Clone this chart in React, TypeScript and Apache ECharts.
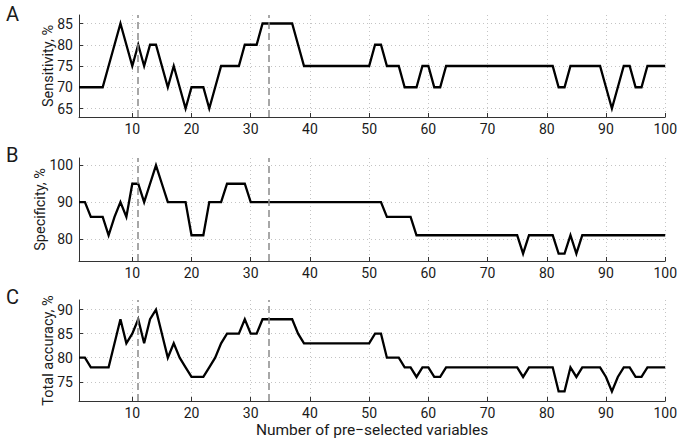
import React, { useEffect, useRef } from "react";
import * as echarts from "echarts";

const sensitivity = [
  70, 70, 70, 70, 70, 75, 80, 85, 80, 75, 80, 75, 80, 80, 75, 70, 75, 70, 65, 70,
  70, 70, 65, 70, 75, 75, 75, 75, 80, 80, 80, 85, 85, 85, 85, 85, 85, 80, 75, 75,
  75, 75, 75, 75, 75, 75, 75, 75, 75, 75, 80, 80, 75, 75, 75, 70, 70, 70, 75, 75,
  70, 70, 75, 75, 75, 75, 75, 75, 75, 75, 75, 75, 75, 75, 75, 75, 75, 75, 75, 75,
  75, 70, 70, 75, 75, 75, 75, 75, 75, 70, 65, 70, 75, 75, 70, 70, 75, 75, 75, 75,
];

const specificity = [
  90, 90, 86, 86, 86, 81, 86, 90, 86, 95, 95, 90, 95, 100, 95, 90, 90, 90, 90, 81,
  81, 81, 90, 90, 90, 95, 95, 95, 95, 90, 90, 90, 90, 90, 90, 90, 90, 90, 90, 90,
  90, 90, 90, 90, 90, 90, 90, 90, 90, 90, 90, 90, 86, 86, 86, 86, 86, 81, 81, 81,
  81, 81, 81, 81, 81, 81, 81, 81, 81, 81, 81, 81, 81, 81, 81, 76, 81, 81, 81, 81,
  81, 76, 76, 81, 76, 81, 81, 81, 81, 81, 81, 81, 81, 81, 81, 81, 81, 81, 81, 81,
];

const totalAccuracy = [
  80, 80, 78, 78, 78, 78, 83, 88, 83, 85, 88, 83, 88, 90, 85, 80, 83, 80, 78, 76,
  76, 76, 78, 80, 83, 85, 85, 85, 88, 85, 85, 88, 88, 88, 88, 88, 88, 85, 83, 83,
  83, 83, 83, 83, 83, 83, 83, 83, 83, 83, 85, 85, 80, 80, 80, 78, 78, 76, 78, 78,
  76, 76, 78, 78, 78, 78, 78, 78, 78, 78, 78, 78, 78, 78, 78, 76, 78, 78, 78, 78,
  78, 73, 73, 78, 76, 78, 78, 78, 78, 76, 73, 76, 78, 78, 76, 76, 78, 78, 78, 78,
];

const xTicks = [10, 20, 30, 40, 50, 60, 70, 80, 90, 100];
const yTicksA = [65, 70, 75, 80, 85];
const yTicksB = [80, 90, 100];
const yTicksC = [75, 80, 85, 90];
const yRanges = [
  [63, 87],
  [74, 102],
  [71, 92],
];
const markers = [11, 33];
const panelLetters = ["A", "B", "C"];
const yNames = ["Sensitivity, %", "Specificity, %", "Total accuracy, %"];
const xName = "Number of pre\u2212selected variables";

const FONT = "Roboto, sans-serif";

export default function App() {
  const ref = useRef<HTMLDivElement>(null);

  useEffect(() => {
    if (!ref.current) return;
    const chart = echarts.init(ref.current, null, { renderer: "svg" });

    const grids = [
      { left: 79, width: 590, top: 15, height: 102 },
      { left: 79, width: 590, top: 158, height: 103 },
      { left: 79, width: 590, top: 300, height: 101 },
    ];
    const yTickSets = [yTicksA, yTicksB, yTicksC];
    const dataSets = [sensitivity, specificity, totalAccuracy];
    const nameGaps = [23, 31, 23];

    const gridLine = { show: true, lineStyle: { color: "#c4c4c4", type: [1, 3] as any, width: 1 } };

    const xAxes = grids.map((_, i) => ({
      type: "value",
      gridIndex: i,
      min: 1,
      max: 100,
      axisLine: { show: true, onZero: false, lineStyle: { color: "#333", width: 1 } },
      axisTick: { show: true, inside: true, length: 4, customValues: xTicks, lineStyle: { color: "#333" } },
      axisLabel: {
        customValues: xTicks,
        margin: 5,
        fontSize: 14,
        color: "#1a1a1a",
        fontFamily: FONT,
      },
      splitLine: gridLine,
      ...(i === 2
        ? {
            name: xName,
            nameLocation: "middle",
            nameGap: 21,
            nameTextStyle: { fontSize: 15.5, color: "#1a1a1a", fontFamily: FONT },
          }
        : {}),
    }));

    const yAxes = grids.map((_, i) => ({
      type: "value",
      gridIndex: i,
      min: yRanges[i][0],
      max: yRanges[i][1],
      axisLine: { show: true, onZero: false, lineStyle: { color: "#333", width: 1 } },
      axisTick: { show: true, inside: true, length: 4, customValues: yTickSets[i], lineStyle: { color: "#333" } },
      axisLabel: { customValues: yTickSets[i], margin: 6, fontSize: 14, color: "#1a1a1a", fontFamily: FONT },
      splitLine: gridLine,
      name: yNames[i],
      nameLocation: "middle",
      nameRotate: 90,
      nameGap: nameGaps[i],
      nameMoveOverlap: false,
      nameTextStyle: { fontSize: 14.5, color: "#1a1a1a", fontFamily: FONT },
    }));

    const series = dataSets.map((vals, i) => ({
      type: "line",
      xAxisIndex: i,
      yAxisIndex: i,
      data: vals.map((v, k) => [k + 1, v]),
      showSymbol: false,
      symbol: "none",
      lineStyle: { color: "#000", width: 2.3, join: "miter" },
      markLine: {
        silent: true,
        symbol: ["none", "none"],
        label: { show: false },
        lineStyle: { color: "#8a8a8a", type: [7, 4] as any, width: 1.5 },
        data: markers.map((m) => ({ xAxis: m })),
      },
    }));

    chart.setOption({
      animation: false,
      backgroundColor: "#fff",
      grid: grids,
      xAxis: xAxes,
      yAxis: yAxes,
      series,
      graphic: panelLetters.map((t, i) => ({
        type: "text",
        left: 6,
        top: [4, 145, 287][i],
        style: { text: t, fontSize: 20, lineHeight: 20, fill: "#1a1a1a", fontFamily: FONT },
      })),
    } as any);

    return () => chart.dispose();
  }, []);

  return <div ref={ref} style={{ width: 680, height: 440, position: "absolute", left: 0, top: 0 }} />;
}
